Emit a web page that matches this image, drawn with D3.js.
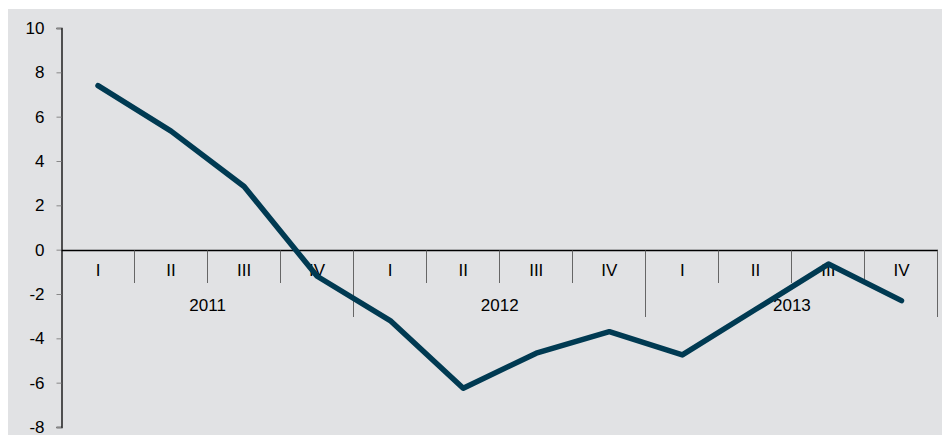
<!DOCTYPE html>
<html>
<head>
<meta charset="utf-8">
<script src="https://cdn.jsdelivr.net/npm/d3@7"></script>
<style>
body { margin: 0; background: #fff; }
text { font-family: "Liberation Sans", Arial, sans-serif; font-size: 17px; fill: #000; }
</style>
</head>
<body>
<svg id="chart" width="942" height="435"></svg>
<script>
var quarters = ['I', 'II', 'III', 'IV', 'I', 'II', 'III', 'IV', 'I', 'II', 'III', 'IV'];
var years = ['2011', '2012', '2013'];
var values = [7.4, 5.35, 2.85, -1.2, -3.2, -6.25, -4.67, -3.7, -4.75, -2.7, -0.65, -2.3];
var yTicks = [10, 8, 6, 4, 2, 0, -2, -4, -6, -8];

var svg = d3.select('#chart');
svg.append('rect').attr('x', 8).attr('y', 9).attr('width', 934).attr('height', 426).attr('fill', '#e1e2e4');

var plotLeft = 61.5, plotRight = 938, plotTop = 28, plotBottom = 427;
var x = d3.scaleBand().domain(d3.range(values.length)).range([plotLeft, plotRight]);
var y = d3.scaleLinear().domain([-8, 10]).range([plotBottom, plotTop]);

// y axis
var yAxis = d3.axisLeft(y).tickValues(yTicks).tickSize(5).tickPadding(12)
	.tickFormat(function(d){ return String(d); });
var ga = svg.append('g').attr('transform', 'translate(' + plotLeft + ',0)').call(yAxis);
ga.select('.domain').attr('stroke', '#000').attr('stroke-width', 1.3);
ga.selectAll('.tick line').attr('stroke', '#888');
ga.selectAll('.tick text').style('font-size', '17px').style('font-family', '"Liberation Sans", Arial, sans-serif').attr('fill', '#000');

// category axis at zero
var y0 = Math.round(y(0)) + 0.5;
svg.append('line').attr('x1', plotLeft).attr('x2', plotRight).attr('y1', y0).attr('y2', y0)
   .attr('stroke', '#000').attr('stroke-width', 1.3);

var g = svg.append('g');
d3.range(1, values.length + 1).forEach(function(i){
	var xx = Math.round(i < values.length ? x(i) : plotRight) - 0.5;
	var longTick = i % 4 === 0;
	g.append('line').attr('x1', xx).attr('x2', xx).attr('y1', y0).attr('y2', longTick ? 317 : 283)
	 .attr('stroke', '#666').attr('stroke-width', 1);
});
quarters.forEach(function(q, i){
	g.append('text').attr('x', x(i) + x.bandwidth() / 2).attr('y', 276)
	 .attr('text-anchor', 'middle').text(q);
});
years.forEach(function(yr, i){
	g.append('text').attr('x', x(i * 4) + x.bandwidth() * 2).attr('y', 311)
	 .attr('text-anchor', 'middle').text(yr);
});

// line
var line = d3.line()
	.x(function(d, i){ return x(i) + x.bandwidth() / 2; })
	.y(function(d){ return y(d); });
svg.append('path').datum(values).attr('d', line)
   .attr('fill', 'none').attr('stroke', '#003a52').attr('stroke-width', 5.5)
   .attr('stroke-linejoin', 'round').attr('stroke-linecap', 'round');
</script>
</body>
</html>
